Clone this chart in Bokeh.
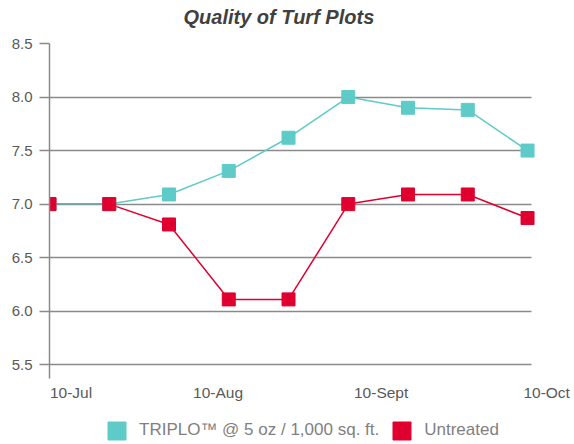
from bokeh.plotting import figure
from bokeh.models import Range1d, FixedTicker, Legend, LegendItem
from bokeh.core.properties import value
from bokeh.embed import file_html
from bokeh.resources import INLINE

# ---- data ----
point_index = [0, 1, 2, 3, 4, 5, 6, 7, 8]
triplo = [7.0, 7.0, 7.09, 7.31, 7.62, 8.0, 7.9, 7.88, 7.5]
untreated = [7.0, 7.0, 6.81, 6.11, 6.11, 7.0, 7.09, 7.09, 6.87]
x_tick_pos = [0.36, 2.82, 5.55, 8.32]
x_tick_labels = ["10-Jul", "10-Aug", "10-Sept", "10-Oct"]
y_ticks = [5.5, 6.0, 6.5, 7.0, 7.5, 8.0, 8.5]
series_names = ["TRIPLO\u2122 @ 5 oz / 1,000 sq. ft.", "Untreated"]
title_text = "Quality of Turf Plots"

TEAL = "#5ecbc8"
RED = "#e0002f"
GRID = "#8a8a8a"
FONT = "Liberation Sans"

# the plot frame reaches the bottom/right canvas edge so that the
# category labels and the legend below the value axis stay visible
p = figure(frame_width=525, frame_height=401, output_backend="svg", toolbar_location=None,
           x_axis_location=None,
           x_range=Range1d(0, 8.786), y_range=Range1d(4.755, 8.5),
           min_border_left=49, min_border_right=0, min_border_top=43,
           min_border_bottom=0)
p.outline_line_color = None
p.background_fill_color = "white"
p.border_fill_color = "white"

# title (a blank second line lifts the title above the plot area)
p.title.text = title_text + "\n\u00a0"
p.title.text_font = FONT
p.title.text_font_size = "20px"
p.title.text_font_style = "bold italic"
p.title.text_color = "#404040"
p.title.text_line_height = 0.7
p.title.align = "left"
p.title.offset = 134
p.title.standoff = 0

# grid
p.xgrid.visible = False
p.ygrid.ticker = FixedTicker(ticks=y_ticks)
p.ygrid.grid_line_color = GRID
p.ygrid.grid_line_width = 1.5
p.ygrid.cross_bounds = (0, 8.06)

# y axis (line runs a little below the lowest gridline)
p.yaxis.ticker = FixedTicker(ticks=y_ticks)
p.yaxis.bounds = (5.369, 8.5)
p.yaxis.major_label_overrides = {v: f"{v:.1f}" for v in y_ticks}
p.yaxis.axis_line_color = GRID
p.yaxis.axis_line_width = 1.5
p.yaxis.major_tick_line_color = GRID
p.yaxis.major_tick_line_width = 1.5
p.yaxis.major_tick_out = 10
p.yaxis.major_tick_in = 0
p.yaxis.minor_tick_line_color = None
p.yaxis.major_label_standoff = 7
p.yaxis.major_label_text_font = FONT
p.yaxis.major_label_text_font_size = "15px"
p.yaxis.major_label_text_color = "#595959"

# category (date) labels under the lowest gridline
p.text(x=x_tick_pos, y=[y_ticks[0]] * len(x_tick_pos), text=x_tick_labels,
       text_font=value(FONT), text_font_size=value("15.5px"), text_color="#595959",
       text_align="center", text_baseline="top", y_offset=19)

# series
p.line(point_index, untreated, line_color=RED, line_width=1.5)
p.line(point_index, triplo, line_color=TEAL, line_width=1.5)
s1 = p.scatter(point_index, triplo, marker="square", size=13, fill_color=TEAL, line_color=TEAL)
s2 = p.scatter(point_index, untreated, marker="square", size=13, fill_color=RED, line_color=RED)

legend = Legend(items=[LegendItem(label=series_names[0], renderers=[s1]),
                       LegendItem(label=series_names[1], renderers=[s2])],
                location=(45, -8.5), orientation="horizontal",
                glyph_width=45, glyph_height=45, label_standoff=0, spacing=0,
                padding=0, margin=0, border_line_color=None,
                background_fill_alpha=0,
                label_text_font=FONT, label_text_font_size="17px",
                label_text_color="#7f7f7f")
p.add_layout(legend)

open("out.html", "w").write(file_html(p, INLINE))
